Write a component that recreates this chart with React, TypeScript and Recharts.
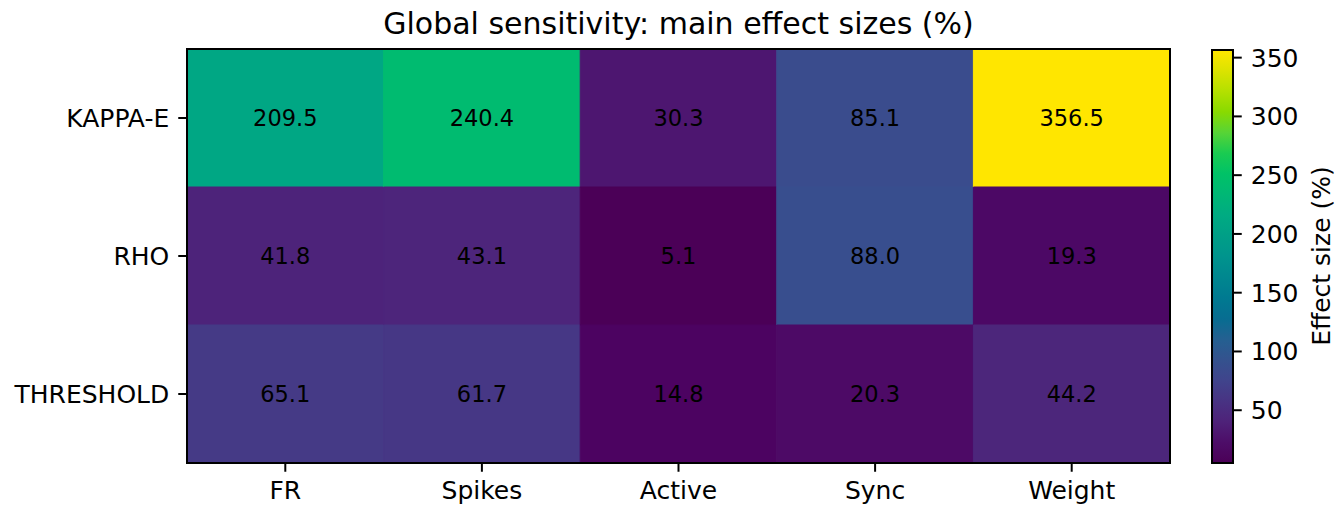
import React from 'react';
import { Bar, BarChart, Cell, LabelList, XAxis, YAxis } from 'recharts';

const ROWS = ['KAPPA-E', 'RHO', 'THRESHOLD'];
const COLUMNS = ['FR', 'Spikes', 'Active', 'Sync', 'Weight'];

const KAPPA_E = [209.5, 240.4, 30.3, 85.1, 356.5];
const RHO = [41.8, 43.1, 5.1, 88.0, 19.3];
const THRESHOLD = [65.1, 61.7, 14.8, 20.3, 44.2];

const VALUES = [KAPPA_E, RHO, THRESHOLD];
const CBAR_TICKS = [50, 100, 150, 200, 250, 300, 350];

const TITLE = 'Global sensitivity: main effect sizes (%)';
const CBAR_LABEL = 'Effect size (%)';

const V_MIN = Math.min(...VALUES.flat());
const V_MAX = Math.max(...VALUES.flat());

// viridis colormap anchors (0, 0.1, ... 1)
const VIRIDIS = [
  '#440154',
  '#482475',
  '#414487',
  '#355f8d',
  '#2a788e',
  '#21918c',
  '#22a884',
  '#44bf70',
  '#7ad151',
  '#bddf26',
  '#fde725',
];

const hexToRgb = (h: string) => [
  parseInt(h.slice(1, 3), 16),
  parseInt(h.slice(3, 5), 16),
  parseInt(h.slice(5, 7), 16),
];

// the reference image is a bit more saturated than plain sRGB viridis,
// treat the colormap as display-p3 and map it to sRGB
const toLin = (c: number) => {
  const s = c / 255;
  return s <= 0.04045 ? s / 12.92 : Math.pow((s + 0.055) / 1.055, 2.4);
};
const toByte = (l: number) => {
  const x = Math.max(0, Math.min(1, l));
  const s = x <= 0.0031308 ? 12.92 * x : 1.055 * Math.pow(x, 1 / 2.4) - 0.055;
  return Math.round(s * 255);
};
const p3ToSrgb = ([r, g, b]: number[]) => {
  const lr = toLin(r);
  const lg = toLin(g);
  const lb = toLin(b);
  return [
    toByte(1.2249 * lr - 0.2247 * lg),
    toByte(-0.042 * lr + 1.0419 * lg),
    toByte(-0.0197 * lr - 0.0786 * lg + 1.0979 * lb),
  ];
};

const viridisT = (t: number) => {
  const tt = Math.max(0, Math.min(1, t));
  const pos = tt * (VIRIDIS.length - 1);
  const i = Math.min(Math.floor(pos), VIRIDIS.length - 2);
  const f = pos - i;
  const a = hexToRgb(VIRIDIS[i]);
  const b = hexToRgb(VIRIDIS[i + 1]);
  const c = p3ToSrgb(a.map((x, k) => x + (b[k] - x) * f));
  return `rgb(${c[0]},${c[1]},${c[2]})`;
};

const viridis = (v: number) => viridisT((v - V_MIN) / (V_MAX - V_MIN));

const GRADIENT_STOPS = Array.from({ length: 21 }, (_, i) => i / 20);

// one row per parameter, each column a unit-wide stacked segment
const heatData = ROWS.map((row, r) => {
  const d: Record<string, number | string> = { row };
  COLUMNS.forEach((_, c) => {
    d[`c${c}`] = 1;
    d[`v${c}`] = VALUES[r][c];
  });
  return d;
});

const cbarData = [{ name: 'cbar', range: [V_MIN, V_MAX] }];

const FONT = "'DejaVu Sans', sans-serif";
const tickStyle = { fill: '#000', fontSize: 25 };
const tickLineStyle = { stroke: '#000', strokeWidth: 2 };

export default function App() {
  return (
    <div
      style={{
        position: 'absolute',
        left: 0,
        top: 0,
        width: 1343,
        height: 518,
        background: '#fff',
        fontFamily: FONT,
      }}
    >
      <div style={{ position: 'absolute', left: 0, top: 0 }}>
        <BarChart
          width={1180}
          height={518}
          data={heatData}
          layout='vertical'
          barCategoryGap={0}
          margin={{ top: 49, right: 10, bottom: 0, left: 0 }}
        >
          <XAxis
            type='number'
            domain={[0, COLUMNS.length]}
            ticks={COLUMNS.map((_, i) => i + 0.5)}
            tickFormatter={v => COLUMNS[Math.floor(v)]}
            height={55}
            tick={tickStyle}
            tickSize={8.75}
            tickMargin={9}
            tickLine={tickLineStyle}
            axisLine={false}
            allowDataOverflow
          />
          <YAxis
            type='category'
            dataKey='row'
            width={187}
            tick={tickStyle}
            tickSize={8.75}
            tickMargin={9}
            tickLine={tickLineStyle}
            axisLine={false}
          />
          {COLUMNS.map((col, c) => (
            <Bar
              key={col}
              dataKey={`c${c}`}
              stackId='heat'
              isAnimationActive={false}
            >
              {ROWS.map((row, r) => (
                <Cell
                  key={row}
                  fill={viridis(VALUES[r][c])}
                  stroke={viridis(VALUES[r][c])}
                  strokeWidth={1}
                />
              ))}
              <LabelList
                dataKey={`v${c}`}
                position='center'
                formatter={(v: number) => Number(v).toFixed(1)}
                fill='#000'
                fontSize={22.5}
              />
            </Bar>
          ))}
        </BarChart>
      </div>

      <div style={{ position: 'absolute', left: 1204, top: 0 }}>
        <BarChart
          width={139}
          height={518}
          data={cbarData}
          barCategoryGap={0}
          margin={{ top: 50, right: 0, bottom: 55, left: 8 }}
        >
          <defs>
            <linearGradient id='viridisGrad' x1='0' y1='1' x2='0' y2='0'>
              {GRADIENT_STOPS.map(t => (
                <stop key={t} offset={`${t * 100}%`} stopColor={viridisT(t)} />
              ))}
            </linearGradient>
          </defs>
          <XAxis dataKey='name' hide />
          <YAxis
            orientation='right'
            type='number'
            domain={[V_MIN, V_MAX]}
            ticks={CBAR_TICKS}
            width={110}
            tick={tickStyle}
            tickSize={8.75}
            tickMargin={9}
            tickLine={tickLineStyle}
            axisLine={false}
            allowDataOverflow
          />
          <Bar
            dataKey='range'
            fill='url(#viridisGrad)'
            isAnimationActive={false}
          />
        </BarChart>
      </div>

      <svg
        width={1343}
        height={518}
        style={{ position: 'absolute', left: 0, top: 0, pointerEvents: 'none' }}
      >
        <text
          x={678.5}
          y={34}
          textAnchor='middle'
          fontSize={30}
          fill='#000'
          fontFamily={FONT}
        >
          {TITLE}
        </text>
        <text
          x={1321}
          y={256}
          textAnchor='middle'
          dominantBaseline='central'
          fontSize={25}
          fill='#000'
          fontFamily={FONT}
          transform='rotate(-90 1321 256)'
        >
          {CBAR_LABEL}
        </text>
        <rect x={187} y={49} width={983} height={414} fill='none' stroke='#000' strokeWidth={2} />
        <rect x={1212} y={50} width={21} height={413} fill='none' stroke='#000' strokeWidth={2} />
      </svg>
    </div>
  );
}
